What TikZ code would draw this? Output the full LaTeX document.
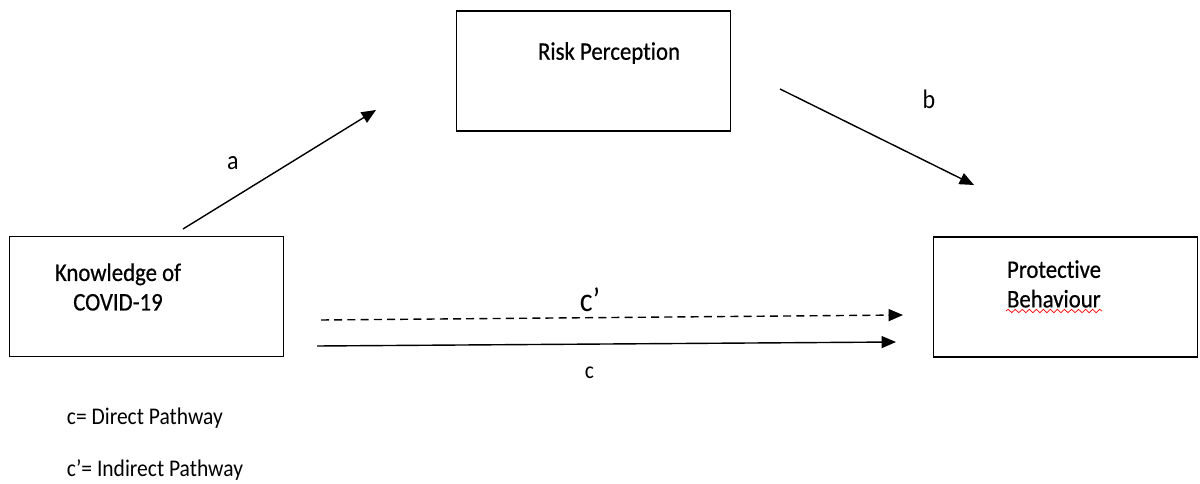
\documentclass[tikz,border=0pt]{standalone}
\usepackage{fontspec}
\setmainfont{Carlito}[FakeStretch=0.9,Ligatures=NoCommon]
\newfontfamily\heavyfont{Carlito}[FakeStretch=0.9,FakeBold=0.6,Ligatures=NoCommon]
\usetikzlibrary{arrows.meta,decorations.pathmorphing}

\tikzset{
  varbox/.style={draw,line width=1pt,minimum width=6.85cm,minimum height=3cm,inner sep=0pt},
  vartext/.style={align=left,font=\heavyfont\fontsize{18}{21}\selectfont},
  pathlab/.style={font=\fontsize{19}{21}\selectfont},
  legtext/.style={anchor=west,font=\fontsize{17}{19}\selectfont},
  effect/.style={line width=1pt,-{Triangle[length=0.36cm,width=0.3cm]}}
}

\begin{document}
\begin{tikzpicture}[x=0.025cm,y=-0.025cm]
  \useasboundingbox (0,0) rectangle (1200,484);

  % --- le tre variabili
  \node[varbox] (risk) at (593.5,71) {};
  \node[varbox] (know) at (146.5,296.5) {};
  \node[varbox,minimum width=6.6cm] (prot) at (1065.5,297) {};

  \node[vartext] (risktxt) at (609,53) {Risk Perception};
  \node[vartext,align=center] (knowtxt) at (118,287) {Knowledge of\\COVID-19};
  \node[vartext] (prottxt) at (1054,284) {Protective\\Behaviour};

  % --- sottolineatura ondulata del correttore
  \draw[red,line width=0.5pt,decorate,decoration={snake,amplitude=1.2pt,segment length=5pt}]
    (1006,311) -- (1102,311);

  % --- estremi delle frecce
  \coordinate (a0) at (183,229);
  \coordinate (a1) at (376,110);
  \coordinate (b0) at (780,89);
  \coordinate (b1) at (974,185);
  \coordinate (d0) at (321,320);
  \coordinate (d1) at (903,315);
  \coordinate (c0) at (317,346);
  \coordinate (c1) at (896,342);

  \draw[effect] (a0) -- (a1);
  \draw[effect] (b0) -- (b1);
  \draw[effect,dash pattern=on 0.2cm off 0.13cm] (d0) -- (d1);
  \draw[effect] (c0) -- (c1);

  % --- etichette dei percorsi
  \node[pathlab] (la) at (233,163) {a};
  \node[pathlab] (lb) at (929,99) {b};
  \node[pathlab,font=\fontsize{24}{26}\selectfont] (ld) at (590,300) {c\textquoteright};
  \node[legtext] (lc) at (580,373) {c};

  % --- legenda
  \node[legtext] (leg1) at (62,418) {c= Direct Pathway};
  \node[legtext] (leg2) at (62,470) {c\textquoteright= Indirect Pathway};
\end{tikzpicture}
\end{document}
